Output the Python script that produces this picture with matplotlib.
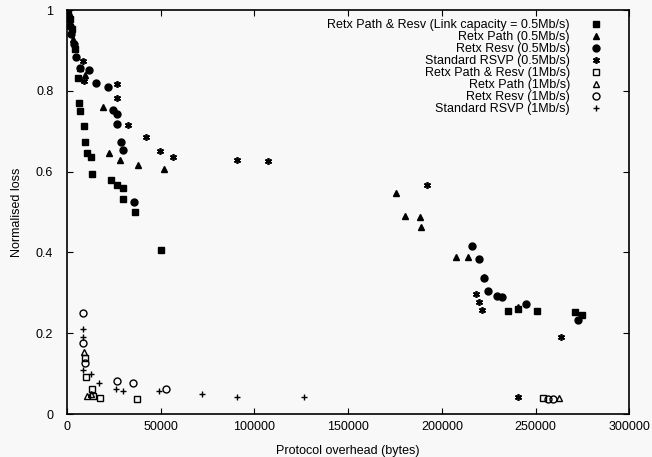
import matplotlib
matplotlib.use('Agg')
import matplotlib.pyplot as plt

plt.rcParams['font.family'] = ['Liberation Sans', 'DejaVu Sans']

# Link capacity 0.5Mb/s
sq05_x = [500, 1600, 2700, 4300, 5900, 6400, 6900, 9100, 9600, 10700, 12800, 13300, 23500,
          26700, 29900, 29900, 36300, 50200, 235400, 240700, 250900, 271200, 274900]
sq05_y = [0.993, 0.978, 0.953, 0.904, 0.832, 0.770, 0.751, 0.714, 0.674, 0.647, 0.637, 0.593, 0.580,
          0.568, 0.560, 0.533, 0.499, 0.407, 0.254, 0.259, 0.254, 0.252, 0.244]
tri05_x = [3200, 6900, 9600, 19200, 22400, 28300, 37900, 51800, 175600, 180400, 188400, 189000,
           207600, 214100, 222600, 240700]
tri05_y = [0.928, 0.857, 0.840, 0.760, 0.647, 0.630, 0.617, 0.607, 0.546, 0.491, 0.487, 0.464,
           0.388, 0.388, 0.338, 0.264]
circ05_x = [1600, 2100, 3700, 4800, 6900, 11700, 15500, 21900, 24600, 26700, 26700, 28800, 29900,
            35800, 216200, 220000, 222600, 224700, 229500, 232200, 245000, 272800]
circ05_y = [0.960, 0.941, 0.916, 0.884, 0.857, 0.852, 0.820, 0.810, 0.753, 0.743, 0.719, 0.674, 0.654,
            0.526, 0.415, 0.383, 0.336, 0.304, 0.291, 0.289, 0.272, 0.232]
star05_x = [1000, 8500, 9100, 26700, 26700, 32600, 42200, 49600, 56600, 90700, 107300, 192200,
            218300, 220000, 221500, 240700, 263700]
star05_y = [0.985, 0.874, 0.825, 0.817, 0.783, 0.716, 0.686, 0.652, 0.637, 0.630, 0.627, 0.568,
            0.296, 0.277, 0.257, 0.042, 0.190]

# Link capacity 1Mb/s
sq1_x = [9600, 10100, 13300, 13900, 17600, 37400, 254100]
sq1_y = [0.138, 0.091, 0.061, 0.044, 0.040, 0.038, 0.039]
tri1_x = [9100, 10700, 12800, 262600]
tri1_y = [0.153, 0.044, 0.050, 0.039]
circ1_x = [8500, 8500, 9600, 26700, 35200, 52800, 256800, 259400]
circ1_y = [0.249, 0.175, 0.127, 0.081, 0.076, 0.061, 0.036, 0.036]
plus1_x = [8500, 8500, 8500, 12800, 17100, 26200, 29900, 49100, 72100, 90700, 126500]
plus1_y = [0.210, 0.190, 0.109, 0.100, 0.076, 0.062, 0.057, 0.057, 0.049, 0.043, 0.043]

labels = ['Retx Path & Resv (Link capacity = 0.5Mb/s)', 'Retx Path (0.5Mb/s)',
          'Retx Resv (0.5Mb/s)', 'Standard RSVP (0.5Mb/s)', 'Retx Path & Resv (1Mb/s)',
          'Retx Path (1Mb/s)', 'Retx Resv (1Mb/s)', 'Standard RSVP (1Mb/s)']

bg = '#f8f8f8'
fig = plt.figure(figsize=(6.52, 4.57), dpi=100, facecolor=bg)
ax = fig.add_axes([0.103, 0.094, 0.862, 0.884], facecolor=bg)

k = dict(color='black', linestyle='none')
ax.plot(sq05_x, sq05_y, marker='s', markersize=5, label=labels[0], **k)
ax.plot(tri05_x, tri05_y, marker='^', markersize=4.5, label=labels[1], **k)
ax.plot(circ05_x, circ05_y, marker='o', markersize=5, label=labels[2], **k)
ax.plot(star05_x, star05_y, marker=(6, 2, 0), markersize=5, markeredgewidth=1.2, label=labels[3], **k)
ax.plot(sq1_x, sq1_y, marker='s', markersize=5, fillstyle='none', markeredgewidth=1, label=labels[4], **k)
ax.plot(tri1_x, tri1_y, marker='^', markersize=4.5, fillstyle='none', markeredgewidth=1, label=labels[5], **k)
ax.plot(circ1_x, circ1_y, marker='o', markersize=5, fillstyle='none', markeredgewidth=1, label=labels[6], **k)
ax.plot(plus1_x, plus1_y, marker='+', markersize=5, markeredgewidth=1, label=labels[7], **k)

ax.set_xlim(0, 300000)
ax.set_ylim(0, 1)
ax.set_xticks([0, 50000, 100000, 150000, 200000, 250000, 300000])
ax.set_xticklabels(['0', '50000', '100000', '150000', '200000', '250000', '300000'])
ax.set_yticks([0, 0.2, 0.4, 0.6, 0.8, 1])
ax.set_yticklabels(['0', '0.2', '0.4', '0.6', '0.8', '1'])
ax.tick_params(direction='in', top=True, right=True, length=4, labelsize=9)
ax.tick_params(axis='x', pad=5)
ax.tick_params(axis='y', pad=10)
for s in ax.spines.values():
    s.set_linewidth(1.2)

ax.set_xlabel('Protocol overhead (bytes)', fontsize=9, labelpad=9)
ax.set_ylabel('Normalised loss', fontsize=9, labelpad=9)

leg = ax.legend(loc='upper right', bbox_to_anchor=(0.961, 0.99), borderaxespad=0,
                markerfirst=False, frameon=False, fontsize=9,
                handletextpad=1.6, labelspacing=0.0, handlelength=1)

fig.savefig('out.png', dpi=100, facecolor=bg)
